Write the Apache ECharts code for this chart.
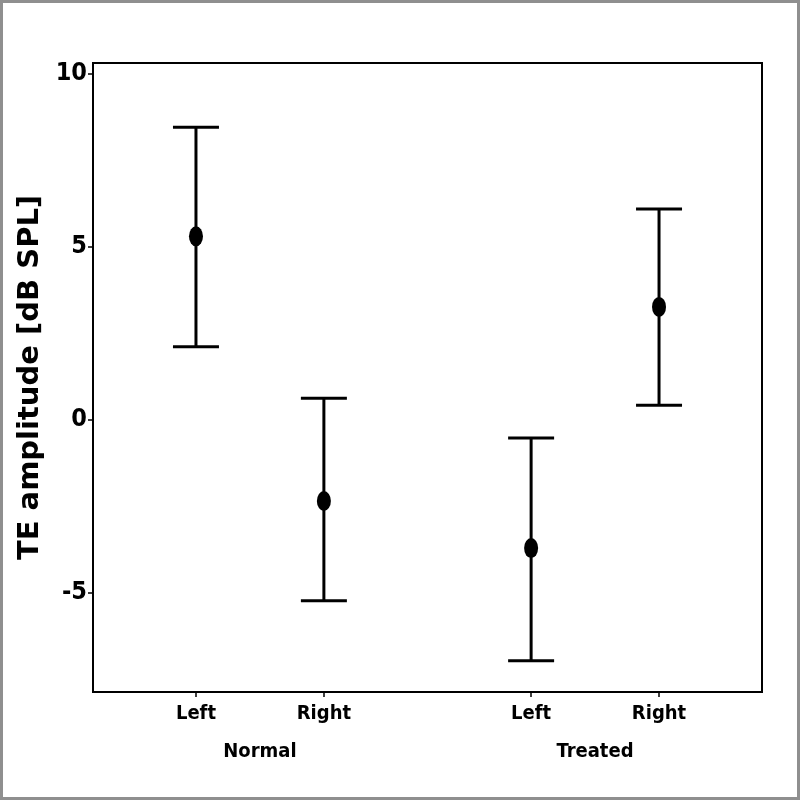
<!DOCTYPE html>
<html>
<head>
<meta charset="utf-8">
<script src="https://cdn.jsdelivr.net/npm/echarts@6/dist/echarts.min.js"></script>
<style>
  html, body { margin: 0; padding: 0; background: #fff; }
  #frame { width: 800px; height: 800px; box-sizing: border-box; border: 3px solid #8f8f8f; }
  #chart { width: 794px; height: 794px; }
</style>
</head>
<body>
<div id="frame"><div id="chart"></div></div>
<script>
// positions of the four conditions on the x scale (gap between groups)
const xPos = [1, 2, 3.62, 4.62]
const sideLabels = ['Left', 'Right', 'Left', 'Right']
const groupNames = ['Normal', 'Treated']
const groupCenters = [1.5, 4.12]
// TE amplitude, dB SPL
const means = [5.29, -2.36, -3.72, 3.25]
const upper = [8.44, 0.61, -0.54, 6.08]
const lower = [2.10, -5.24, -6.98, 0.41]
const yTicks = [-5, 0, 5, 10]

const narrow = "'Liberation Sans Narrow', 'DejaVu Sans Condensed', sans-serif"

const chart = echarts.init(document.getElementById('chart'), null, { renderer: 'canvas' })

const labelFor = (v, vals, names) => {
  const i = vals.findIndex((p) => Math.abs(p - v) < 1e-6)
  return i < 0 ? '' : names[i]
}

chart.setOption({
  backgroundColor: '#fff',
  animation: false,
  grid: {
    left: 90, top: 60, right: 35, bottom: 105,
    show: true, borderColor: '#000', borderWidth: 2,
  },
  xAxis: [
    {
      type: 'value',
      min: 0.195,
      max: 5.425,
      splitLine: { show: false },
      axisLine: { show: true, onZero: false, lineStyle: { color: '#000', width: 2 } },
      axisTick: { show: true, customValues: xPos, length: 5, inside: false, lineStyle: { color: '#000', width: 1.5 } },
      axisLabel: {
        customValues: xPos,
        margin: 12,
        color: '#000',
        fontFamily: narrow,
        fontWeight: 'bold',
        fontSize: 20,
        formatter: (v) => labelFor(v, xPos, sideLabels),
      },
    },
    {
      type: 'value',
      position: 'bottom',
      offset: 38,
      min: 0.195,
      max: 5.425,
      splitLine: { show: false },
      axisLine: { show: false, onZero: false },
      axisTick: { show: false },
      axisLabel: {
        customValues: groupCenters,
        margin: 12,
        color: '#000',
        fontFamily: narrow,
        fontWeight: 'bold',
        fontSize: 20,
        formatter: (v) => labelFor(v, groupCenters, groupNames),
      },
    },
  ],
  yAxis: {
    type: 'value',
    min: -7.88,
    max: 10.3,
    name: 'TE amplitude [dB SPL]',
    nameLocation: 'middle',
    nameGap: 46,
    nameTextStyle: {
      color: '#000',
      fontFamily: "'DejaVu Sans', sans-serif",
      fontWeight: 'bold',
      fontSize: 29,
    },
    splitLine: { show: false },
    axisLine: { show: true, onZero: false, lineStyle: { color: '#000', width: 2 } },
    axisTick: { show: true, customValues: yTicks, length: 5, lineStyle: { color: '#000', width: 1.5 } },
    axisLabel: {
      customValues: yTicks,
      margin: 6,
      color: '#000',
      fontFamily: narrow,
      fontWeight: 'bold',
      fontSize: 25,
    },
  },
  series: [
    {
      type: 'custom',
      xAxisIndex: 0,
      data: xPos.map((x, i) => [x, lower[i], upper[i]]),
      renderItem: (params, api) => {
        const x = api.value(0)
        const lo = api.coord([x, api.value(1)])
        const hi = api.coord([x, api.value(2)])
        const half = 23
        const style = { stroke: '#000', lineWidth: 3 }
        return {
          type: 'group',
          children: [
            { type: 'line', shape: { x1: lo[0], y1: lo[1], x2: hi[0], y2: hi[1] }, style },
            { type: 'line', shape: { x1: hi[0] - half, y1: hi[1], x2: hi[0] + half, y2: hi[1] }, style },
            { type: 'line', shape: { x1: lo[0] - half, y1: lo[1], x2: lo[0] + half, y2: lo[1] }, style },
          ],
        }
      },
      z: 2,
    },
    {
      type: 'scatter',
      xAxisIndex: 0,
      data: xPos.map((x, i) => [x, means[i]]),
      symbol: 'circle',
      symbolSize: [14, 20],
      itemStyle: { color: '#000', opacity: 1 },
      z: 3,
    },
  ],
})
</script>
</body>
</html>
